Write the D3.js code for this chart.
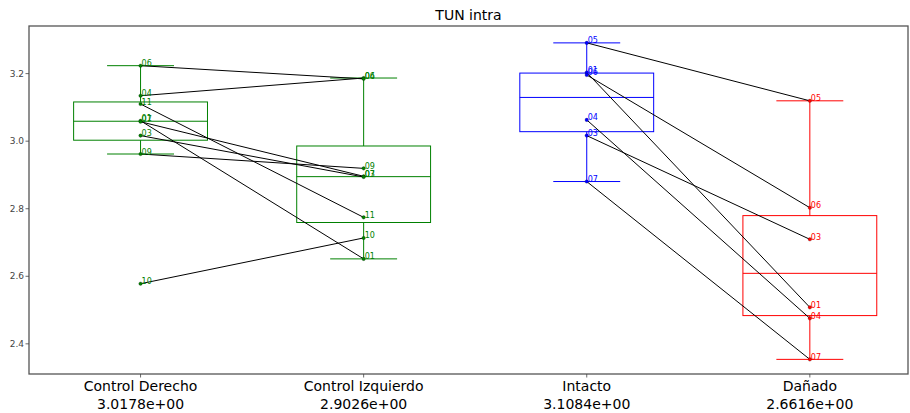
<!DOCTYPE html>
<html>
<head>
<meta charset="utf-8">
<script src="https://cdn.jsdelivr.net/npm/d3@7"></script>
<style>
  body { margin: 0; background: #fff; }
  svg { display: block; font-family: "DejaVu Sans", sans-serif; }
</style>
</head>
<body>
<svg id="chart" width="910" height="413"></svg>
<script>
// Groups shown on the x axis, left to right
const categories = ["Control Derecho", "Control Izquierdo", "Intacto", "Dañado"];
const groupColors = ["green", "green", "blue", "red"];

// Subject ids and values per group
const controlDerechoIds = ["06", "04", "11", "01", "07", "03", "09", "10"];
const controlDerechoValues = [3.2235, 3.1345, 3.110, 3.0605, 3.0575, 3.0165, 2.962, 2.578];

const controlIzquierdoIds = ["04", "06", "09", "07", "03", "11", "10", "01"];
const controlIzquierdoValues = [3.187, 3.1845, 2.9195, 2.896, 2.894, 2.7745, 2.7135, 2.6515];

const intactoIds = ["05", "01", "06", "04", "03", "07"];
const intactoValues = [3.291, 3.2035, 3.196, 3.063, 3.0165, 2.8805];

const danadoIds = ["05", "06", "03", "01", "04", "07"];
const danadoValues = [3.1195, 2.803, 2.7095, 2.508, 2.4755, 2.354];

// Paired groups joined subject by subject
const pairs = [[0, 1], [2, 3]];

const yTicks = [2.4, 2.6, 2.8, 3.0, 3.2];
const title = "TUN intra";

const groups = [
  { ids: controlDerechoIds, values: controlDerechoValues },
  { ids: controlIzquierdoIds, values: controlIzquierdoValues },
  { ids: intactoIds, values: intactoValues },
  { ids: danadoIds, values: danadoValues }
];

const svg = d3.select("#chart");
const margin = { left: 29, right: 2, top: 26, bottom: 39 };
const W = 910, H = 413;

const x = d3.scaleLinear().domain([0.5, 4.44]).range([margin.left, W - margin.right]);
const y = d3.scaleLinear().domain([2.3107, 3.341]).range([H - margin.bottom, margin.top]);

const boxHalf = 0.3, capHalf = 0.15;

// Box statistics (linear-interpolated quartiles, 1.5 IQR whiskers)
function stats(vals) {
  const s = vals.slice().sort(d3.ascending);
  const q1 = d3.quantileSorted(s, 0.25);
  const med = d3.quantileSorted(s, 0.5);
  const q3 = d3.quantileSorted(s, 0.75);
  const iqr = q3 - q1;
  const lo = d3.min(s.filter(v => v >= q1 - 1.5 * iqr));
  const hi = d3.max(s.filter(v => v <= q3 + 1.5 * iqr));
  return { q1, med, q3, lo, hi };
}

function sci(v) {
  const [m, e] = v.toExponential(4).split("e");
  const sign = e[0] === "-" ? "-" : "+";
  const digits = e.replace(/^[+-]/, "").padStart(2, "0");
  return m + "e" + sign + digits;
}

// Boxes
const boxLayer = svg.append("g");
groups.forEach((g, i) => {
  const c = groupColors[i];
  const p = i + 1;
  const st = stats(g.values);
  const gb = boxLayer.append("g").attr("stroke", c).attr("fill", "none").attr("stroke-width", 1);
  gb.append("rect")
    .attr("x", x(p - boxHalf)).attr("y", y(st.q3))
    .attr("width", x(p + boxHalf) - x(p - boxHalf))
    .attr("height", y(st.q1) - y(st.q3));
  gb.append("line").attr("x1", x(p - boxHalf)).attr("x2", x(p + boxHalf))
    .attr("y1", y(st.med)).attr("y2", y(st.med));
  gb.append("line").attr("x1", x(p)).attr("x2", x(p)).attr("y1", y(st.q3)).attr("y2", y(st.hi));
  gb.append("line").attr("x1", x(p)).attr("x2", x(p)).attr("y1", y(st.q1)).attr("y2", y(st.lo));
  gb.append("line").attr("x1", x(p - capHalf)).attr("x2", x(p + capHalf)).attr("y1", y(st.hi)).attr("y2", y(st.hi));
  gb.append("line").attr("x1", x(p - capHalf)).attr("x2", x(p + capHalf)).attr("y1", y(st.lo)).attr("y2", y(st.lo));
});

// Subject connecting lines
const lineLayer = svg.append("g").attr("stroke", "black").attr("stroke-width", 1);
pairs.forEach(([a, b]) => {
  const ga = groups[a], gb = groups[b];
  ga.ids.forEach((id, k) => {
    const j = gb.ids.indexOf(id);
    if (j < 0) return;
    lineLayer.append("line")
      .attr("x1", x(a + 1)).attr("y1", y(ga.values[k]))
      .attr("x2", x(b + 1)).attr("y2", y(gb.values[j]));
  });
});

// Points and subject labels
const ptLayer = svg.append("g");
groups.forEach((g, i) => {
  const c = groupColors[i];
  const p = i + 1;
  g.values.forEach((v, k) => {
    ptLayer.append("circle").attr("cx", x(p)).attr("cy", y(v)).attr("r", 1.8)
      .attr("fill", c).attr("stroke", "#000").attr("stroke-opacity", 0.4).attr("stroke-width", 0.5);
    ptLayer.append("text").attr("x", x(p) + 1).attr("y", y(v) + 0.5)
      .attr("font-size", 8).attr("fill", c).text(g.ids[k]);
  });
});

// Frame
svg.append("rect")
  .attr("x", margin.left).attr("y", margin.top)
  .attr("width", W - margin.left - margin.right)
  .attr("height", H - margin.top - margin.bottom)
  .attr("fill", "none").attr("stroke", "#555").attr("stroke-width", 1.3);

// Y axis ticks
const yAxis = svg.append("g");
yTicks.forEach(t => {
  yAxis.append("line").attr("x1", margin.left - 3.5).attr("x2", margin.left)
    .attr("y1", y(t)).attr("y2", y(t)).attr("stroke", "#444").attr("stroke-width", 0.8);
  yAxis.append("text").attr("x", margin.left - 5).attr("y", y(t)).attr("dy", "0.35em")
    .attr("text-anchor", "end").attr("font-size", 9).attr("fill", "#444").text(t.toFixed(1));
});

// X axis ticks and labels with group means
const xAxis = svg.append("g");
categories.forEach((cat, i) => {
  const p = i + 1;
  const yb = H - margin.bottom;
  xAxis.append("line").attr("x1", x(p)).attr("x2", x(p)).attr("y1", yb).attr("y2", yb + 3.5)
    .attr("stroke", "#444").attr("stroke-width", 0.8);
  const t = xAxis.append("text").attr("x", x(p)).attr("text-anchor", "middle")
    .attr("font-size", 14).attr("fill", "#000");
  t.append("tspan").attr("x", x(p)).attr("y", 391).text(cat);
  t.append("tspan").attr("x", x(p)).attr("y", 408.5).text(sci(d3.mean(groups[i].values)));
});

// Title
svg.append("text").attr("x", (margin.left + W - margin.right) / 2).attr("y", 20)
  .attr("text-anchor", "middle").attr("font-size", 14).attr("fill", "#000").text(title);
</script>
</body>
</html>
